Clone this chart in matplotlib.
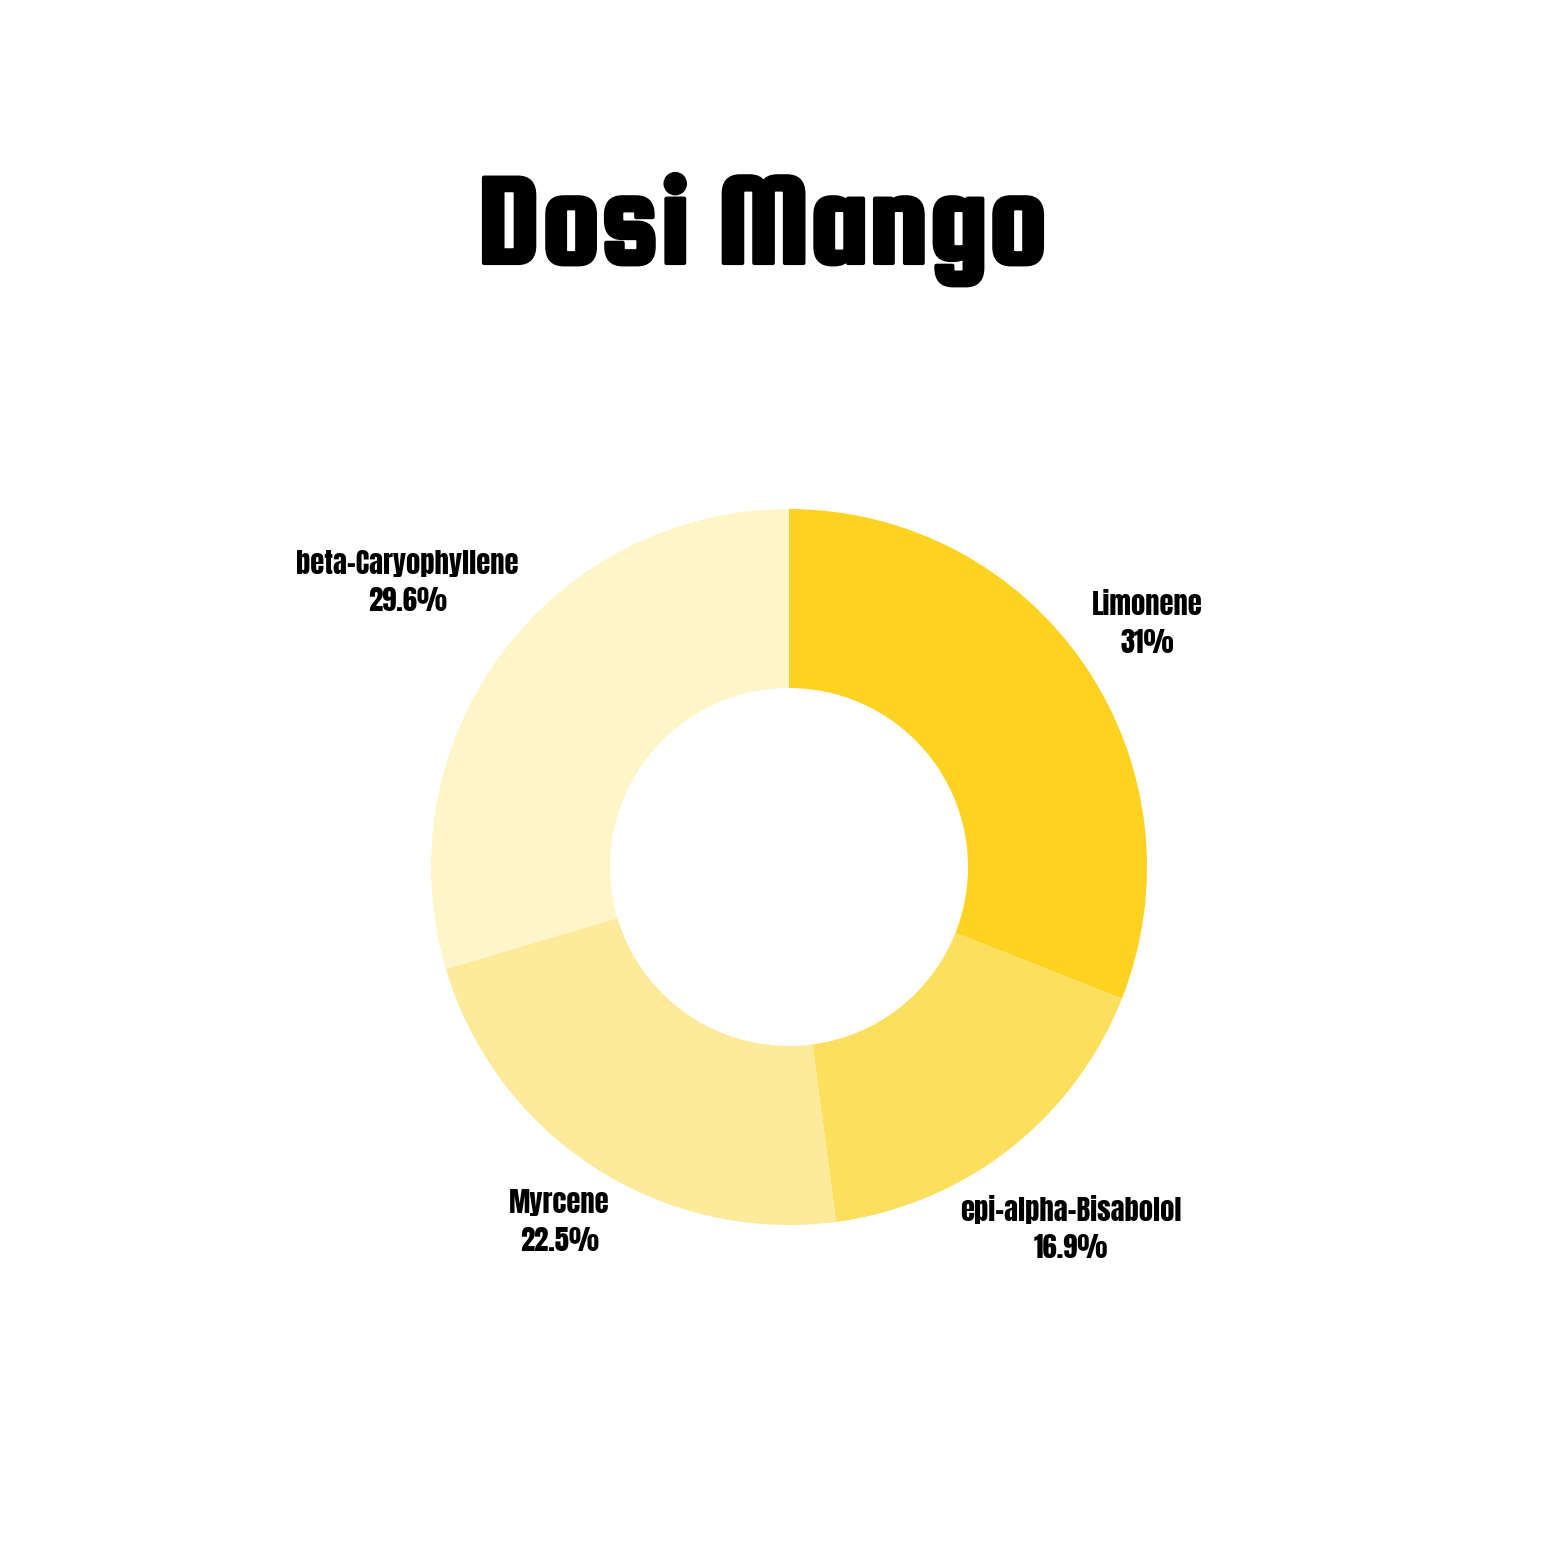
import numpy as np
import matplotlib
matplotlib.use("Agg")
import matplotlib.pyplot as plt
import matplotlib.patheffects as pe

# terpene profile
names = ["Limonene", "epi-alpha-Bisabolol", "Myrcene", "beta-Caryophyllene"]
shares = [31.0, 16.9, 22.5, 29.6]
pct_labels = ["31%", "16.9%", "22.5%", "29.6%"]
colors = ["#fdd220", "#fddf5e", "#fdea9b", "#fef5c8"]

# how far out each label sits (in pie radii)
label_dist = [1.21, 1.28, 1.18, 1.33]

W = H = 1563
fig = plt.figure(figsize=(W / 100, H / 100), dpi=100)
fig.patch.set_facecolor("white")

# pie centre at (789, 867) px, radius 358 px
cx, cy, r = 789, 867, 358
half = 1.6 * r
ax = fig.add_axes([(cx - half) / W, (H - cy - half) / H, 2 * half / W, 2 * half / H])
wedges, _ = ax.pie(shares, colors=colors, startangle=90, counterclock=False,
                   radius=1.0, wedgeprops=dict(width=0.5, linewidth=0))
ax.set_xlim(-1.6, 1.6)
ax.set_ylim(-1.6, 1.6)
ax.set_aspect("equal")
ax.axis("off")

for w, name, pct, d in zip(wedges, names, pct_labels, label_dist):
    ang = np.deg2rad((w.theta1 + w.theta2) / 2)
    x, y = d * np.cos(ang), d * np.sin(ang)
    ax.text(x, y, f"{name}\n{pct}", ha="center", va="center", fontsize=20.5,
            family=["Anton", "DejaVu Sans"], linespacing=1.42, color="black")

fig.text(763 / W, 1 - 263 / H, "Dosi Mango", ha="center", va="baseline",
         fontsize=95, family=["Squada One", "DejaVu Sans"], color="black",
         path_effects=[pe.withStroke(linewidth=3, foreground="black")])

fig.savefig("out.png", dpi=100, facecolor="white")
